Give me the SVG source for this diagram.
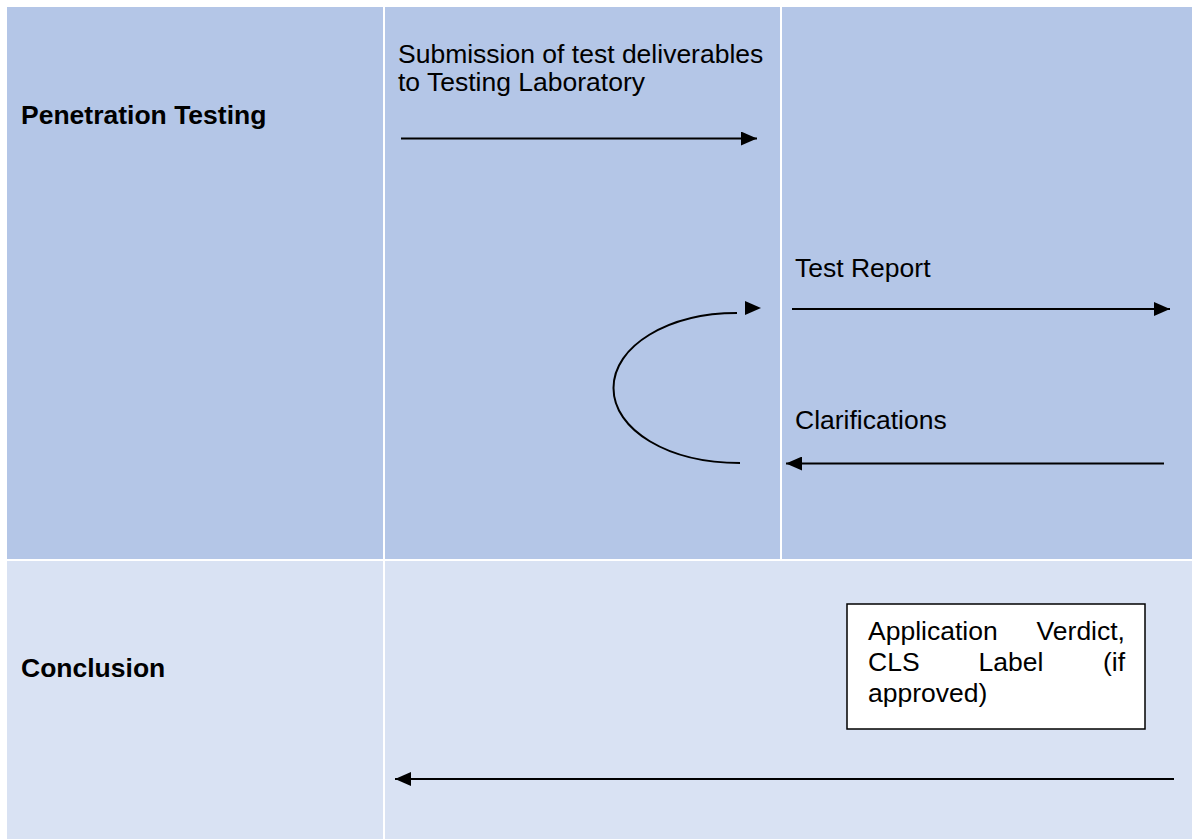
<svg xmlns="http://www.w3.org/2000/svg" xmlns:xlink="http://www.w3.org/1999/xlink" width="1192" height="839" viewBox="0 0 1192 839">
  <style>
    .row1 { fill: #B4C6E7; }
    .row2 { fill: #D9E2F3; }
    .t { font-family: "Liberation Sans", Arial, sans-serif; font-size: 26.5px; fill: #000; }
    .b { font-weight: bold; }
    .wire { stroke: #000; stroke-width: 2; fill: none; }
    .box { fill: #fff; stroke: #000; stroke-width: 1.5; }
  </style>
  <defs>
    <marker id="arrow" markerWidth="16" markerHeight="14" refX="16" refY="7" orient="auto" markerUnits="userSpaceOnUse">
      <path d="M0,0 L16,7 L0,14 Z" fill="#000"/>
    </marker>
    <path id="head" d="M-16,-7 L0,0 L-16,7 Z" fill="#000"/>
  </defs>

  <rect width="1192" height="839" fill="#fff"/>

  <!-- table cells -->
  <g id="cell-penetration">
    <rect class="row1" x="7" y="7" width="376" height="552"/>
    <text class="t b" x="21" y="124">Penetration Testing</text>
  </g>
  <g id="cell-applicant">
    <rect class="row1" x="385" y="7" width="395" height="552"/>
    <text class="t" x="398" y="62.5">Submission of test deliverables</text>
    <text class="t" x="398" y="91">to Testing Laboratory</text>
  </g>
  <g id="cell-lab">
    <rect class="row1" x="782" y="7" width="410" height="552"/>
    <text class="t" x="795" y="277">Test Report</text>
    <text class="t" x="795" y="429">Clarifications</text>
  </g>
  <g id="cell-conclusion">
    <rect class="row2" x="7" y="561" width="376" height="278"/>
    <text class="t b" x="21" y="677">Conclusion</text>
  </g>
  <g id="cell-result">
    <rect class="row2" x="385" y="561" width="807" height="278"/>
  </g>

  <g id="verdict">
    <rect class="box" x="847" y="604" width="298" height="125"/>
    <text class="t" x="868" y="640">Application</text>
    <text class="t" x="1125" y="640" text-anchor="end">Verdict,</text>
    <text class="t" x="868" y="671">CLS</text>
    <text class="t" x="1011" y="671" text-anchor="middle">Label</text>
    <text class="t" x="1125" y="671" text-anchor="end">(if</text>
    <text class="t" x="868" y="702">approved)</text>
  </g>

  <!-- connectors -->
  <g id="connectors">
    <path class="wire" d="M401,138.5 L757,138.5" marker-end="url(#arrow)"/>
    <path class="wire" d="M792,309 L1170,309" marker-end="url(#arrow)"/>
    <path class="wire" d="M1164,463.5 L786,463.5" marker-end="url(#arrow)"/>
    <path class="wire" d="M740,463 C668,463 613.5,430 613.5,388 C613.5,346 668,313 737,313"/>
    <use xlink:href="#head" x="761" y="308"/>
    <path class="wire" d="M1174,779 L395,779" marker-end="url(#arrow)"/>
  </g>
</svg>
